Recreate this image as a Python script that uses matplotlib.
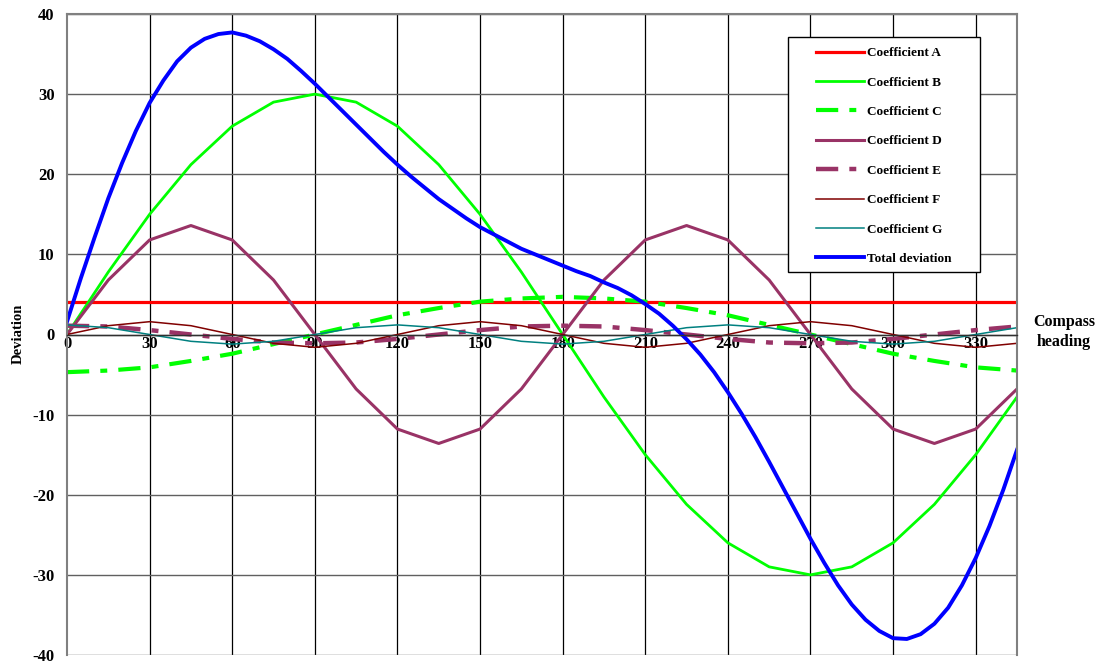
import matplotlib
matplotlib.use("Agg")
import matplotlib.pyplot as plt
from matplotlib.patches import Rectangle

# headings for the coefficient curves (every 15 degrees)
heading = [0, 15, 30, 45, 60, 75, 90, 105, 120, 135, 150, 165,
           180, 195, 210, 225, 240, 255, 270, 285, 300, 315, 330, 345]

coef_a = [4.0] * 24
coef_b = [0, 7.8, 15, 21.2, 26, 29, 30, 29, 26, 21.2, 15, 7.8,
          0, -7.8, -15, -21.2, -26, -29, -30, -29, -26, -21.2, -15, -7.8]
coef_c = [-4.7, -4.5, -4.1, -3.3, -2.4, -1.2, 0, 1.2, 2.4, 3.3, 4.1, 4.5,
          4.7, 4.5, 4.1, 3.3, 2.4, 1.2, 0, -1.2, -2.4, -3.3, -4.1, -4.5]
coef_d = [0, 6.8, 11.8, 13.6, 11.8, 6.8, 0, -6.8, -11.8, -13.6, -11.8, -6.8,
          0, 6.8, 11.8, 13.6, 11.8, 6.8, 0, -6.8, -11.8, -13.6, -11.8, -6.8]
coef_e = [1.1, 1.0, 0.55, 0, -0.55, -1.0, -1.1, -1.0, -0.55, 0, 0.55, 1.0,
          1.1, 1.0, 0.55, 0, -0.55, -1.0, -1.1, -1.0, -0.55, 0, 0.55, 1.0]
coef_f = [0, 1.1, 1.6, 1.1, 0, -1.1, -1.6, -1.1, 0, 1.1, 1.6, 1.1,
          0, -1.1, -1.6, -1.1, 0, 1.1, 1.6, 1.1, 0, -1.1, -1.6, -1.1]
coef_g = [1.2, 0.85, 0, -0.85, -1.2, -0.85, 0, 0.85, 1.2, 0.85, 0, -0.85,
          -1.2, -0.85, 0, 0.85, 1.2, 0.85, 0, -0.85, -1.2, -0.85, 0, 0.85]

# total deviation, every 5 degrees
heading_fine = list(range(0, 350, 5))
total_dev = [1.6, 7.0, 12.1, 17.0, 21.4, 25.4, 28.9, 31.7, 34.1, 35.8,
             36.9, 37.5, 37.7, 37.3, 36.6, 35.6, 34.4, 32.9, 31.3, 29.6,
             27.9, 26.2, 24.5, 22.8, 21.2, 19.7, 18.3, 16.9, 15.7, 14.5,
             13.4, 12.5, 11.6, 10.7, 10.0, 9.3, 8.6, 7.9, 7.3, 6.5,
             5.8, 4.9, 3.8, 2.6, 1.1, -0.6, -2.5, -4.7, -7.2, -9.9,
             -12.8, -15.9, -19.1, -22.3, -25.5, -28.5, -31.3, -33.7, -35.6, -37.0,
             -37.9, -38.0, -37.4, -36.1, -34.1, -31.3, -27.9, -23.9, -19.4, -14.4]

x_ticks = [0, 30, 60, 90, 120, 150, 180, 210, 240, 270, 300, 330]
y_ticks = [-40, -30, -20, -10, 0, 10, 20, 30, 40]

plt.rcParams["font.family"] = ["Liberation Serif", "DejaVu Serif"]
plt.rcParams["font.weight"] = "bold"
plt.rcParams["lines.scale_dashes"] = False
plt.rcParams["axes.unicode_minus"] = False

fig = plt.figure(figsize=(10.99, 6.68), dpi=100)
ax = fig.add_axes([67 / 1099, 1 - 655 / 668, (1017 - 67) / 1099, (655 - 14) / 668])

dash = (0, (16, 8, 5, 8))
plum = "#993366"
ax.plot(heading, coef_a, color="#ff0000", lw=2.3, label="Coefficient A")
ax.plot(heading, coef_b, color="#00ff00", lw=2.0, label="Coefficient B")
ax.plot(heading, coef_c, color="#00ff00", lw=3.0, ls=dash, label="Coefficient C")
ax.plot(heading, coef_d, color=plum, lw=2.2, label="Coefficient D")
ax.plot(heading, coef_e, color=plum, lw=3.2, ls=dash, label="Coefficient E")
ax.plot(heading, coef_f, color="#800000", lw=1.1, label="Coefficient F")
ax.plot(heading, coef_g, color="#008080", lw=1.1, label="Coefficient G")
ax.plot(heading_fine, total_dev, color="#0000ff", lw=2.8, label="Total deviation")

ax.set_xlim(0, 345)
ax.set_ylim(-40, 40)
ax.set_xticks(x_ticks)
ax.set_yticks(y_ticks)
ax.tick_params(length=0, labelsize=12)
ax.tick_params(axis="y", pad=9)
ax.tick_params(axis="x", pad=1)
for t in ax.get_xticklabels() + ax.get_yticklabels():
    t.set_fontweight("bold")

for xv in x_ticks[1:]:
    ax.axvline(xv, color="#000000", lw=0.9, zorder=0.5)
for yv in y_ticks:
    ax.axhline(yv, color="#606060", lw=1.0, zorder=0.5)

for side in ["left", "top", "right"]:
    ax.spines[side].set_color("#808080")
    ax.spines[side].set_linewidth(1.5)
ax.spines["bottom"].set_position(("data", 0))
ax.spines["bottom"].set_color("#303030")
ax.spines["bottom"].set_linewidth(1.0)

fig.text(18 / 1099, 1 - 334 / 668, "Deviation", rotation=90, ha="center",
         va="center", fontsize=10.5, fontweight="bold")
fig.text(1064 / 1099, 1 - 332 / 668, "Compass\nheading", ha="center",
         va="center", fontsize=11.5, fontweight="bold", linespacing=1.3)

# legend box drawn separately so the entries can sit inset from the frame
box = Rectangle((788 / 1099, 1 - 272 / 668), (980 - 788) / 1099, (272 - 37) / 668,
                transform=fig.transFigure, facecolor="white", edgecolor="black",
                lw=1.0, zorder=4.5)
ax.add_artist(box)
box.set_clip_on(False)

leg = ax.legend(loc="upper left", bbox_to_anchor=(816 / 1099, 1 - 47 / 668),
                bbox_transform=fig.transFigure, borderaxespad=0, borderpad=0,
                frameon=False, prop={"size": 9.5, "weight": "bold"},
                handlelength=3.6, handletextpad=0.25, labelspacing=1.3)
leg.set_zorder(5)

fig.savefig("out.png", dpi=100)
